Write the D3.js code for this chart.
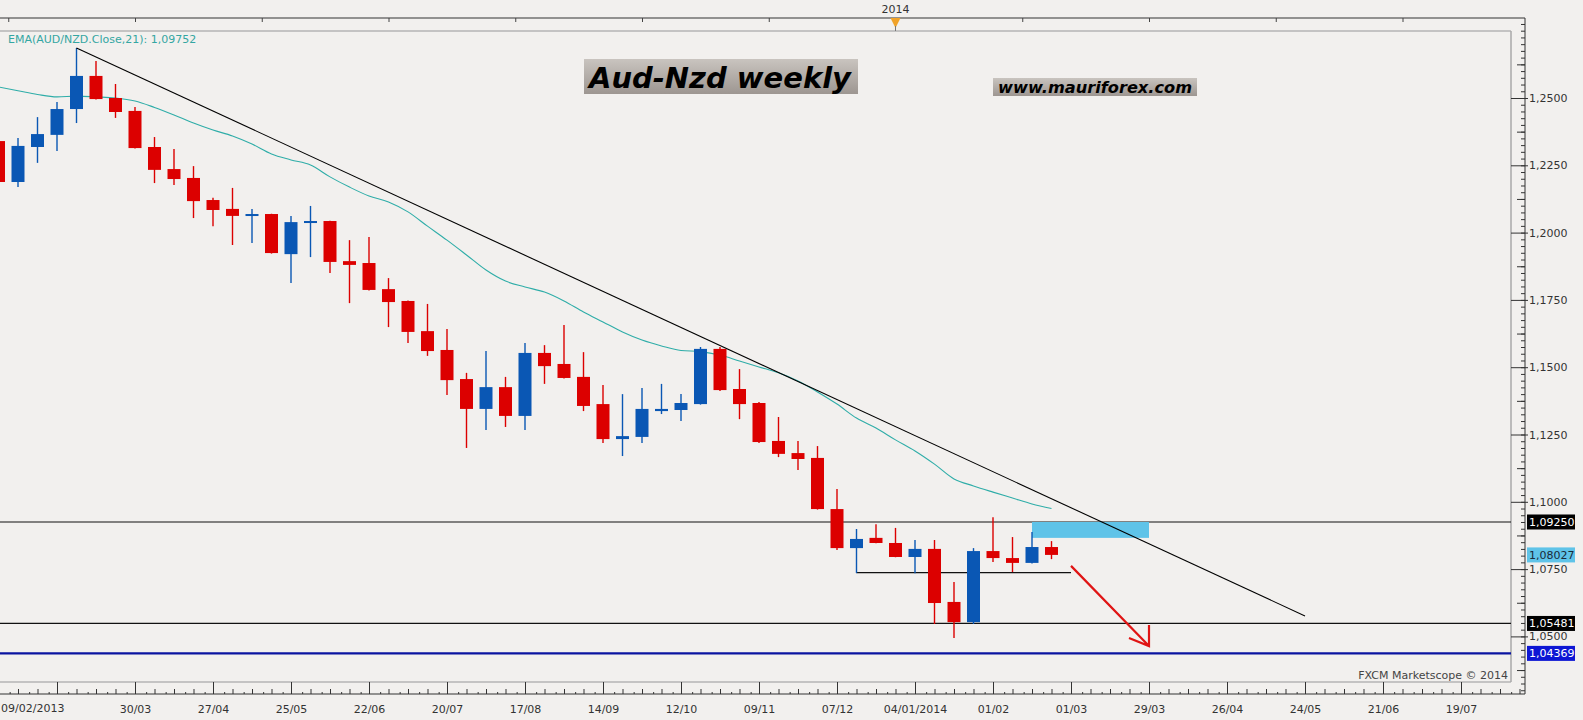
<!DOCTYPE html>
<html>
<head>
<meta charset="utf-8">
<script src="https://cdn.jsdelivr.net/npm/d3@7"></script>
<style>
  body { margin: 0; background: #f2f0ee; }
  svg { display: block; font-family: "DejaVu Sans", Verdana, sans-serif; }
</style>
</head>
<body>
<script>
// weekly candles, AUD/NZD
var weeks = ["2013-02-09","2013-02-16","2013-02-23","2013-03-02","2013-03-09","2013-03-16","2013-03-23","2013-03-30",
  "2013-04-06","2013-04-13","2013-04-20","2013-04-27","2013-05-04","2013-05-11","2013-05-18","2013-05-25",
  "2013-06-01","2013-06-08","2013-06-15","2013-06-22","2013-06-29","2013-07-06","2013-07-13","2013-07-20","2013-07-27",
  "2013-08-03","2013-08-10","2013-08-17","2013-08-24","2013-08-31","2013-09-07","2013-09-14","2013-09-21","2013-09-28",
  "2013-10-05","2013-10-12","2013-10-19","2013-10-26","2013-11-02","2013-11-09","2013-11-16","2013-11-23","2013-11-30",
  "2013-12-07","2013-12-14","2013-12-21","2013-12-28","2014-01-04","2014-01-11","2014-01-18","2014-01-25",
  "2014-02-01","2014-02-08","2014-02-15","2014-02-22"];

var opens = [1.2340,1.2188,1.2318,1.2363,1.2459,1.2582,1.2500,1.2452,1.2318,1.2236,
  1.2203,1.2121,1.2088,1.2062,1.2069,1.1920,1.2037,1.2043,1.1894,1.1887,
  1.1790,1.1746,1.1634,1.1564,1.1456,1.1345,1.1426,1.1319,1.1553,1.1512,
  1.1464,1.1363,1.1233,1.1241,1.1337,1.1341,1.1363,1.1568,1.1419,1.1367,
  1.1226,1.1181,1.1163,1.0973,1.0828,1.0866,1.0847,1.0795,1.0825,1.0628,
  1.0553,1.0817,1.0791,1.0773,1.0832];
var highs = [1.2351,1.2351,1.2429,1.2485,1.2686,1.2637,1.2552,1.2467,1.2355,1.2311,
  1.2247,1.2129,1.2166,1.2088,1.2070,1.2062,1.2099,1.2044,1.1972,1.1984,
  1.1831,1.1748,1.1735,1.1642,1.1479,1.1560,1.1464,1.1590,1.1582,1.1657,
  1.1556,1.1434,1.1400,1.1423,1.1438,1.1400,1.1575,1.1575,1.1493,1.1371,
  1.1315,1.1226,1.1207,1.1048,1.0899,1.0917,1.0903,1.0858,1.0858,1.0702,
  1.0828,1.0943,1.0869,1.0888,1.0854];
var lows = [1.2181,1.2169,1.2259,1.2303,1.2407,1.2494,1.2426,1.2312,1.2184,1.2177,
  1.2054,1.2024,1.1954,1.1961,1.1922,1.1813,1.1909,1.1850,1.1738,1.1785,
  1.1649,1.1590,1.1542,1.1397,1.1200,1.1267,1.1278,1.1267,1.1438,1.1458,
  1.1337,1.1218,1.1170,1.1218,1.1326,1.1300,1.1361,1.1412,1.1307,1.1218,
  1.1166,1.1118,1.0971,1.0821,1.0735,1.0846,1.0794,1.0735,1.0546,1.0494,
  1.0546,1.0776,1.0739,1.0771,1.0787];
var closes = [1.2188,1.2322,1.2366,1.2459,1.2582,1.2496,1.2448,1.2314,1.2233,1.2199,
  1.2117,1.2084,1.2062,1.2069,1.1924,1.2039,1.2043,1.1891,1.1880,1.1787,
  1.1742,1.1631,1.1560,1.1452,1.1345,1.1426,1.1319,1.1553,1.1504,1.1460,
  1.1356,1.1233,1.1244,1.1345,1.1345,1.1367,1.1568,1.1415,1.1363,1.1222,
  1.1178,1.1159,1.0973,1.0828,1.0862,1.0847,1.0795,1.0825,1.0624,1.0553,
  1.0817,1.0791,1.0773,1.0832,1.08027];
// EMA(21) of close
var ema = [1.2541,1.2527,1.2513,1.2504,1.2507,1.2504,1.2500,1.2489,1.2465,1.2437,
  1.2407,1.2381,1.2359,1.2329,1.2292,1.2270,1.2251,1.2207,1.2169,1.2136,
  1.2114,1.2077,1.2024,1.1972,1.1917,1.1861,1.1820,1.1798,1.1779,1.1746,
  1.1705,1.1668,1.1631,1.1601,1.1579,1.1562,1.1558,1.1545,1.1523,1.1501,
  1.1479,1.1449,1.1408,1.1363,1.1311,1.1274,1.1230,1.1189,1.1140,1.1085,
  1.1059,1.1036,1.1014,1.0992,1.09752];

// horizontal levels
var levels = [1.09250, 1.05481];
var blueLevel = 1.04369;
var lastPrice = 1.08027;
var supportLine = {from: "2013-12-14", to: "2014-03-01", value: 1.0737};
var zone = {from: "2014-02-15", to: "2014-03-29", top: 1.0925, bottom: 1.0866};
var trend = [{date: "2013-03-09", value: 1.2686}, {date: "2014-05-24", value: 1.0576}];
var arrow = [{date: "2014-03-01", value: 1.0762}, {date: "2014-03-29", value: 1.0464}];

var xTickDates = ["2013-03-02","2013-03-30","2013-04-27","2013-05-25","2013-06-22","2013-07-20","2013-08-17",
  "2013-09-14","2013-10-12","2013-11-09","2013-12-07","2014-01-04","2014-02-01","2014-03-01","2014-03-29",
  "2014-04-26","2014-05-24","2014-06-21","2014-07-19"];
var xTickLabels = ["","30/03","27/04","25/05","22/06","20/07","17/08","14/09","12/10","09/11","07/12",
  "04/01/2014","01/02","01/03","29/03","26/04","24/05","21/06","19/07"];
var yTicks = [1.0500,1.0750,1.1000,1.1250,1.1500,1.1750,1.2000,1.2250,1.2500];

var W = 1583, H = 720;
var parse = d3.utcParse("%Y-%m-%d");
var fmt = function(v, n) { return d3.format("." + n + "f")(v).replace(".", ","); };

var x = d3.scaleUtc()
  .domain([parse("2013-02-09"), parse("2013-03-30")])
  .range([-1.5, 135]);
var y = d3.scaleLinear().domain([1.05, 1.25]).range([636.4, 98]);

var plotRight = 1511, axisX = 1525, topAxisY = 18, plotTop = 31, plotBottom = 682, botAxisY = 694;

var svg = d3.select("body").append("svg").attr("width", W).attr("height", H);
svg.append("rect").attr("width", W).attr("height", H).attr("fill", "#f2f0ee");

var defs = svg.append("defs");
var grad = defs.append("linearGradient").attr("id", "boxg").attr("x1", 0).attr("y1", 0).attr("x2", 0).attr("y2", 1);
grad.append("stop").attr("offset", 0).attr("stop-color", "#c9c4bf");
grad.append("stop").attr("offset", 1).attr("stop-color", "#9d9691");
defs.append("clipPath").attr("id", "plotclip").append("rect")
  .attr("x", 0).attr("y", plotTop).attr("width", plotRight).attr("height", plotBottom - plotTop);

// frame
svg.append("line").attr("x1", 0).attr("x2", plotRight).attr("y1", plotTop).attr("y2", plotTop).attr("stroke", "#b5b5b5").attr("stroke-width", 1.5);
svg.append("line").attr("x1", 0).attr("x2", plotRight).attr("y1", plotBottom).attr("y2", plotBottom).attr("stroke", "#b5b5b5").attr("stroke-width", 1.5);
svg.append("line").attr("x1", plotRight).attr("x2", plotRight).attr("y1", plotTop).attr("y2", plotBottom).attr("stroke", "#a8a8a8").attr("stroke-width", 1.5);
svg.append("line").attr("x1", 0).attr("x2", axisX).attr("y1", topAxisY).attr("y2", topAxisY).attr("stroke", "#333");
svg.append("line").attr("x1", 0).attr("x2", axisX).attr("y1", botAxisY).attr("y2", botAxisY).attr("stroke", "#333");
svg.append("line").attr("x1", axisX).attr("x2", axisX).attr("y1", topAxisY).attr("y2", botAxisY).attr("stroke", "#333");

// top axis ticks (every 6.5 weeks)
var t0 = parse("2013-02-09").getTime();
var topTicks = d3.range(0.5, 73, 6.5).filter(function(k) { return k !== 46; })
  .map(function(k) { return new Date(t0 + k * 7 * 864e5); });
svg.append("g").attr("transform", "translate(0," + topAxisY + ")")
  .call(d3.axisBottom(x).tickValues(topTicks).tickSize(4).tickFormat(""))
  .call(function(g) { g.select(".domain").remove(); g.selectAll("line").attr("stroke", "#444"); });

// 2014 marker
var x2014 = x(parse("2013-12-28"));
svg.append("text").attr("x", x2014).attr("y", 13).attr("text-anchor", "middle")
  .attr("font-size", 11).attr("fill", "#333").text("2014");
svg.append("path").attr("d", "M" + (x2014 - 5) + "," + topAxisY + "L" + (x2014 + 5) + "," + topAxisY + "L" + x2014 + "," + (topAxisY + 10) + "Z")
  .attr("fill", "#f0a228");
svg.append("line").attr("x1", x2014).attr("x2", x2014).attr("y1", topAxisY + 8).attr("y2", plotTop).attr("stroke", "#777");

// bottom axis
var axisStyle = function(g) {
  g.select(".domain").remove();
  g.attr("font-family", null).attr("font-size", 11).style("color", "#333");
};
svg.append("g").attr("transform", "translate(0," + botAxisY + ")")
  .call(d3.axisBottom(x).tickValues(d3.utcWednesday.range(parse("2013-02-06"), parse("2014-08-10"))).tickSize(-2).tickFormat(""))
  .call(axisStyle);
svg.append("g").attr("transform", "translate(0," + botAxisY + ")")
  .call(d3.axisBottom(x).tickValues(d3.utcSaturday.range(parse("2013-02-09"), parse("2014-08-10"))).tickSize(-5).tickFormat(""))
  .call(axisStyle);
svg.append("g").attr("transform", "translate(0," + botAxisY + ")")
  .call(d3.axisBottom(x).tickValues(xTickDates.map(parse)).tickSize(-12).tickPadding(11)
    .tickFormat(function(d, i) { return xTickLabels[i]; }))
  .call(axisStyle);
svg.append("text").attr("x", 1).attr("y", 712).attr("font-size", 11).attr("fill", "#333").text("09/02/2013");

// right axis
var minor = d3.range(1.0300, 1.2800, 0.0025).map(function(v) { return Math.round(v * 10000) / 10000; });
var medium = d3.range(1.0375, 1.2700, 0.025).map(function(v) { return Math.round(v * 10000) / 10000; });
svg.append("g").attr("transform", "translate(" + axisX + ",0)")
  .call(d3.axisLeft(y).tickValues(minor).tickSize(4).tickFormat(""))
  .call(axisStyle);
svg.append("g").attr("transform", "translate(" + axisX + ",0)")
  .call(d3.axisLeft(y).tickValues(medium).tickSize(8).tickFormat(""))
  .call(axisStyle);
svg.append("g").attr("transform", "translate(" + axisX + ",0)")
  .call(d3.axisLeft(y).tickValues(yTicks).tickSize(14).tickFormat(""))
  .call(axisStyle);
svg.append("g").attr("transform", "translate(" + axisX + ",0)")
  .call(d3.axisRight(y).tickValues(yTicks).tickSize(3).tickPadding(1).tickFormat(function(d) { return fmt(d, 4); }))
  .call(axisStyle);

var plot = svg.append("g").attr("clip-path", "url(#plotclip)");

// levels
plot.selectAll(".lvl").data(levels).enter().append("line")
  .attr("x1", 0).attr("x2", plotRight).attr("y1", y).attr("y2", y)
  .attr("stroke", "#111").attr("stroke-width", 1.2);
plot.append("line").attr("x1", 0).attr("x2", plotRight).attr("y1", y(blueLevel)).attr("y2", y(blueLevel))
  .attr("stroke", "#0a14a0").attr("stroke-width", 2.2);

// resistance zone
plot.append("rect").attr("x", x(parse(zone.from))).attr("y", y(zone.top))
  .attr("width", x(parse(zone.to)) - x(parse(zone.from))).attr("height", y(zone.bottom) - y(zone.top))
  .attr("fill", "#5fc3e8");

// support line
plot.append("line").attr("x1", x(parse(supportLine.from))).attr("x2", x(parse(supportLine.to)))
  .attr("y1", y(supportLine.value)).attr("y2", y(supportLine.value)).attr("stroke", "#111").attr("stroke-width", 1.2);

// EMA
var line = d3.line().x(function(d, i) { return x(parse(weeks[i])); }).y(function(d) { return y(d); }).curve(d3.curveMonotoneX);
plot.append("path").datum(ema).attr("d", line).attr("fill", "none").attr("stroke", "#2fada8").attr("stroke-width", 1.1);

// candles
var candles = weeks.map(function(w, i) {
  return {date: parse(w), o: opens[i], h: highs[i], l: lows[i], c: closes[i]};
});
var cg = plot.selectAll(".candle").data(candles).enter().append("g");
var col = function(d) { return d.c >= d.o ? "#0a57b4" : "#dc0000"; };
cg.append("line")
  .attr("x1", function(d) { return x(d.date); }).attr("x2", function(d) { return x(d.date); })
  .attr("y1", function(d) { return y(d.h); }).attr("y2", function(d) { return y(d.l); })
  .attr("stroke", col).attr("stroke-width", 1.4);
cg.append("rect")
  .attr("x", function(d) { return x(d.date) - 6.5; }).attr("width", 13)
  .attr("y", function(d) { return y(Math.max(d.o, d.c)); })
  .attr("height", function(d) { return Math.max(2, Math.abs(y(d.o) - y(d.c))); })
  .attr("fill", col);

// trend line
plot.append("line")
  .attr("x1", x(parse(trend[0].date))).attr("y1", y(trend[0].value))
  .attr("x2", x(parse(trend[1].date))).attr("y2", y(trend[1].value))
  .attr("stroke", "#000").attr("stroke-width", 1.1);

// red arrow
var ax1 = x(parse(arrow[0].date)), ay1 = y(arrow[0].value), ax2 = x(parse(arrow[1].date)), ay2 = y(arrow[1].value);
plot.append("path")
  .attr("d", "M" + ax1 + "," + ay1 + "L" + ax2 + "," + ay2 + "M" + ax2 + "," + (ay2 - 21) + "L" + ax2 + "," + ay2 + "L" + (ax2 - 20) + "," + (ay2 - 8))
  .attr("fill", "none").attr("stroke", "#e01414").attr("stroke-width", 2.2);

// price boxes on the axis
var boxes = [
  {v: levels[0], bg: "#000", fg: "#fff"},
  {v: lastPrice, bg: "#5fc3e8", fg: "#1a2a3a"},
  {v: levels[1], bg: "#000", fg: "#fff"},
  {v: blueLevel, bg: "#0d16d4", fg: "#fff"}
];
var bx = svg.selectAll(".box").data(boxes).enter().append("g");
bx.append("rect").attr("x", 1527).attr("y", function(d) { return y(d.v) - 7.5; }).attr("width", 48).attr("height", 15)
  .attr("fill", function(d) { return d.bg; });
bx.append("text").attr("x", 1529).attr("y", function(d) { return y(d.v) + 4; }).attr("font-size", 11)
  .attr("fill", function(d) { return d.fg; }).text(function(d) { return fmt(d.v, 5); });

// labels
svg.append("text").attr("x", 8).attr("y", 43).attr("font-size", 11).attr("fill", "#34a6a2")
  .text("EMA(AUD/NZD.Close,21): " + fmt(ema[ema.length - 1], 5));

svg.append("rect").attr("x", 584).attr("y", 59).attr("width", 274).attr("height", 35).attr("fill", "url(#boxg)");
svg.append("text").attr("x", 589).attr("y", 88).attr("font-size", 29).attr("font-weight", "bold").attr("font-style", "italic")
  .attr("fill", "#000").attr("textLength", 262).attr("lengthAdjust", "spacingAndGlyphs").text("Aud-Nzd weekly");

svg.append("rect").attr("x", 993).attr("y", 78).attr("width", 204).attr("height", 18).attr("fill", "url(#boxg)");
svg.append("text").attr("x", 998).attr("y", 93).attr("font-size", 16).attr("font-weight", "bold").attr("font-style", "italic")
  .attr("fill", "#000").attr("textLength", 194).attr("lengthAdjust", "spacingAndGlyphs").text("www.mauriforex.com");

svg.append("text").attr("x", 1508).attr("y", 679).attr("text-anchor", "end").attr("font-size", 11).attr("fill", "#444")
  .text("FXCM Marketscope \u00a9 2014");
</script>
</body>
</html>
